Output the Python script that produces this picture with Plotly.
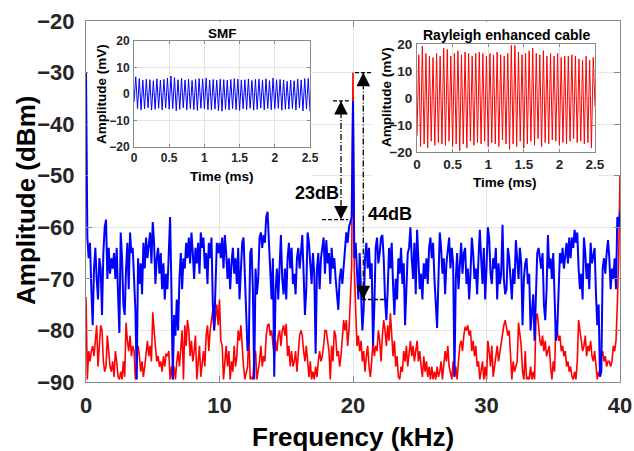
import numpy as np
import plotly.graph_objects as go

# ---------------- main spectrum data (0.1 kHz bins, 0..40 kHz) ----------------
blue_0_10 = [-30, -62, -66, -63, -72, -79, -68, -64, -70, -74,
             -66, -68, -77, -65, -60, -58.5, -70, -64, -69, -66,
             -68, -65, -70, -64, -73, -80.5, -61, -66, -75, -77,
             -68, -63, -72, -61, -65, -64, -70, -76, -89.5, -66,
             -71, -67, -73, -63, -68, -62, -66, -64, -61, -67,
             -59, -63, -71, -66, -64, -69, -65, -72, -67, -74,
             -69, -72, -63, -58, -72, -89.5, -77, -81, -74, -80,
             -70, -65, -72, -66, -68, -63, -66, -62, -67, -61,
             -65, -70, -64, -67, -63, -69, -61, -64, -62, -68,
             -65, -71, -63, -66, -62, -75, -80, -72, -63, -65]
blue_10_20 = [-63, -66, -62, -68, -61.5, -65, -70, -66, -72, -67,
              -64, -69, -66, -71, -64, -74, -68, -63, -62, -70,
              -77, -84, -82, -65, -64, -72, -89.5, -68, -73, -70,
              -62, -61, -64, -61.5, -63, -58, -57, -63, -70, -74,
              -66, -89, -72, -68, -74, -67, -61.5, -70, -73, -68,
              -74, -66, -63, -68, -64, -71, -69, -73, -66, -64,
              -68, -65, -61.5, -69, -77, -72, -61, -63, -67, -71,
              -65, -69, -84.5, -68, -65, -72, -66, -64, -62, -69,
              -62.5, -67, -65, -71, -64, -68, -66, -70, -74, -76,
              -70, -68, -71, -67, -65, -61, -63, -60, -59, -58]
blue_20_30 = [-35.5, -66, -63, -70, -74, -65, -72, -80, -76, -66,
              -63, -68, -64, -70, -67, -83, -75, -64, -62, -67,
              -65, -62, -61.5, -66, -74, -78, -72, -64, -68, -63,
              -71, -77, -70, -74, -66, -69, -64, -71, -67, -79,
              -72, -65, -64, -60, -66, -70, -63, -73, -60.5, -66,
              -72, -69, -74, -67, -70, -66, -71, -64, -62, -66,
              -63, -70, -74, -79.5, -70, -61, -64, -69, -66, -73,
              -67, -65, -62, -68, -64, -67, -89, -70, -65, -72,
              -66, -63, -69, -65, -64, -71, -68, -74, -69, -62,
              -65, -70, -68, -73, -66, -60.5, -66, -71, -64, -74]
blue_30_40 = [-68, -60, -62, -69, -71, -66, -68, -64, -74, -67,
              -71, -69, -59.5, -70, -73, -72, -64, -66, -70, -74,
              -68, -71, -62.5, -66, -70, -64, -67, -79, -70, -67,
              -66, -71, -69, -80, -76, -73, -82, -74, -65, -64,
              -66, -68, -65, -75, -78, -72, -61.5, -68, -66, -70,
              -65, -75, -82, -80, -70, -65, -67, -64, -68, -66,
              -63, -67, -62, -66, -62, -64, -60.5, -63, -61, -68,
              -72, -69, -74, -62, -65, -70, -67, -72, -63, -67,
              -65, -64, -73, -79, -75, -89, -88, -68, -66, -69,
              -65, -62.5, -66, -72, -68, -70, -66, -72, -58, -60,
              -57]

red_0_10 = [-73.5, -89.5, -84, -86, -84, -83, -85, -82, -79, -87,
            -83, -79, -80, -86, -88, -87, -81, -84, -87, -88,
            -86, -89, -84, -86, -89, -89.5, -88, -89.5, -86, -89,
            -78.5, -82, -84, -81, -85, -83, -84, -89.5, -86, -83,
            -85, -88, -86, -89, -87, -84, -82, -85, -83, -86,
            -76.5, -80, -83, -86, -85, -87, -86, -88, -85, -87,
            -84.5, -85, -84, -89.5, -87, -89.5, -87, -89.5, -86, -84,
            -87, -84, -80, -89.5, -79, -83, -78, -80, -85, -82,
            -86, -84, -81, -89.5, -85, -83, -89, -86, -84, -87,
            -81, -79, -84, -80, -78, -76, -80, -77, -75, -79]
red_10_20 = [-74, -82, -83, -89.5, -86, -83, -87, -84, -89.5, -86,
             -88, -83, -87, -85, -80, -82, -79, -84, -87, -89.5,
             -88, -87, -80.5, -89.5, -89, -89.5, -85, -84, -89.5, -88,
             -86, -83, -87, -85, -86, -81, -79, -78.7, -81, -80,
             -83, -85, -82, -84, -81, -80, -83, -80, -79, -81,
             -78.7, -85, -83, -87, -84, -87, -86, -84, -88, -85,
             -81, -80, -81, -84, -86, -83, -87, -89, -86, -89.5,
             -88, -89.5, -87, -89, -86, -84, -86, -85, -83, -80,
             -80, -82, -84, -89.5, -83, -86, -80, -81, -85, -84,
             -87, -85, -82, -78, -80, -78, -83, -80, -74, -67.5]
red_20_30 = [-30, -68, -76, -83, -81, -84, -82, -86, -84, -88,
             -85, -83, -87, -89, -86, -82, -85, -83, -84, -80,
             -82, -86, -81, -78, -80, -83, -79, -82, -76.7, -80,
             -85, -82, -87, -85, -89, -89.5, -87, -88, -84, -86,
             -83, -87, -84, -82, -85, -83, -86, -84, -82, -86,
             -84, -87, -89, -85, -88, -86, -89, -87, -89.5, -87,
             -89.5, -88, -89.5, -87, -89, -88, -86, -89.5, -87, -84,
             -86, -83, -87, -88, -89.5, -86, -89, -87, -89.5, -86,
             -83, -82, -84, -81, -79.3, -80, -79, -81, -80, -84,
             -82, -85, -83, -87, -86, -89.5, -88, -86, -89.5, -87]
red_30_40 = [-89.5, -82, -84, -87, -83, -89, -87, -85, -83, -86,
             -84, -82, -80, -79, -78, -80, -81, -80, -84, -89.5,
             -86, -88, -87, -86, -78.5, -81, -83, -88, -89.5, -84,
             -89.5, -89, -89.5, -87, -89.5, -88, -89.5, -78, -76.7, -79,
             -82, -83, -81, -84, -82, -85, -84, -83, -87, -89.5,
             -86, -88, -78, -80, -82, -81, -84, -83, -85, -84,
             -87, -86, -88, -87, -89, -89.5, -88, -89.5, -86, -78,
             -80, -82, -84, -83, -81, -85, -83, -84, -82, -85,
             -86, -84, -87, -89.5, -88, -89, -85, -84, -86, -85,
             -87, -86, -86, -87, -86, -83, -84, -82, -75, -66,
             -50]

spec_blue = blue_0_10 + blue_10_20 + blue_20_30 + blue_30_40
spec_red = red_0_10 + red_10_20 + red_20_30 + red_30_40
freq_khz = np.round(np.arange(len(spec_blue)) * 0.1, 1)

# ---------------- inset time-domain data (0.025 ms steps) ----------------
smf_mv = [-3.0, 6.5, -5.5, 5.8, -6.0, 5.2, -5.6, 5.6, -5.2, 5.4,
          -6.1, 5.0, -5.8, 5.7, -5.4, 5.2, -6.0, 5.5, -5.3, 6.0,
          -5.7, 6.8, -5.5, 6.2, -6.3, 5.4, -5.8, 5.9, -5.2, 5.3,
          -6.0, 5.6, -5.5, 5.1, -5.9, 5.5, -6.2, 5.8, -5.4, 5.7,
          -5.6, 6.0, -5.9, 5.3, -6.0, 5.5, -5.7, 5.2, -6.3, 5.6,
          -6.5, 5.4, -5.8, 5.2, -6.0, 5.5, -5.5, 5.8, -5.9, 5.6,
          -6.2, 5.3, -5.6, 5.4, -5.9, 5.7, -5.4, 5.1, -6.1, 5.5,
          -5.8, 5.6, -5.3, 5.2, -6.0, 5.7, -5.5, 5.0, -5.9, 6.0,
          -5.6, 5.4, -5.4, 5.5, -6.1, 5.3, -5.8, 4.8, -5.7, 5.2,
          -5.5, 5.0, -6.0, 5.6, -5.2, 5.3, -6.4, 5.8, -5.7, 5.9,
          -6.6]
rec_mv = [-14, 16, -18, 19.2, -17, 16.5, -18.5, 15.5, -16, 15,
          -17.5, 16.5, -16.5, 15.5, -17, 18.5, -17.5, 18, -16, 15.5,
          -18, 16.5, -17, 17.5, -19.5, 16, -17, 17, -18.5, 16.5,
          -16, 15.5, -17.5, 16.5, -16.5, 17, -17, 16.5, -16, 15.5,
          -18, 16.5, -16.5, 16, -17, 17, -18, 16, -15.5, 15.5,
          -17, 16.5, -19, 19.5, -17, 19.5, -18, 17, -16, 16,
          -18.5, 16.5, -17, 17.5, -16, 18.5, -17.5, 16.5, -15, 16,
          -18, 17.5, -16.5, 15.5, -17, 16.5, -15.5, 15.5, -16, 16.5,
          -17.5, 15, -16.5, 15.5, -17, 15.5, -16, 16, -15, 15.5,
          -16.5, 14.5, -16, 14, -17, 15.5, -16.5, 14, -18.5, 15,
          -3]
t_smf = np.linspace(0, 2.5, len(smf_mv))
t_rec = np.linspace(0, 2.5, len(rec_mv))

# ---------------- labels ----------------
x_ticks = [0, 10, 20, 30, 40]
y_ticks = [-90, -80, -70, -60, -50, -40, -30, -20]
inset_x_ticks = [0, 0.5, 1, 1.5, 2, 2.5]
inset_x_text = ['0', '0.5', '1', '1.5', '2', '2.5']
inset_y_ticks = [-20, -10, 0, 10, 20]
gap_db = [23, 44]
gap_labels = ['23dB', '44dB']

FONT = 'Liberation Sans, Arial, Helvetica, sans-serif'
GRID = '#e4e4e4'
AX = '#8a8a8a'
TXT = '#262626'

fig = go.Figure()
fig.add_trace(go.Scatter(x=freq_khz, y=spec_red, mode='lines',
                         line=dict(color='#ff0000', width=1.6),
                         xaxis='x', yaxis='y', showlegend=False))
fig.add_trace(go.Scatter(x=freq_khz, y=spec_blue, mode='lines',
                         line=dict(color='#0000ff', width=2),
                         xaxis='x', yaxis='y', showlegend=False))

# gap arrows, derived from peak values
peak_blue = spec_blue[200]
peak_red = spec_red[200]
a1x, a2x = 19.1, 20.77
a1_top, a1_bot = peak_blue, peak_blue - gap_db[0]
a2_top, a2_bot = peak_red, peak_red - gap_db[1]
for ax_, top, bot in [(a1x, a1_top, a1_bot), (a2x, a2_top, a2_bot)]:
    fig.add_trace(go.Scatter(x=[ax_, ax_], y=[top, bot], mode='lines',
                             line=dict(color='black', width=1.3, dash='6px,2px,1px,2px'),
                             xaxis='x', yaxis='y', showlegend=False, hoverinfo='skip'))
horiz = [(18.5, 19.85, a1_top), (17.68, 19.63, a1_bot),
         (20.15, 21.57, a2_top), (20.67, 22.55, a2_bot)]
for x0, x1, yy in horiz:
    fig.add_trace(go.Scatter(x=[x0, x1], y=[yy, yy], mode='lines',
                             line=dict(color='black', width=1.3, dash='4px,2px'),
                             xaxis='x', yaxis='y', showlegend=False, hoverinfo='skip'))

# cover subplots (white backgrounds behind insets incl. labels)
fig.add_trace(go.Scatter(x=[None], y=[None], xaxis='x2', yaxis='y2', showlegend=False))
fig.add_trace(go.Scatter(x=t_smf, y=smf_mv, mode='lines',
                         line=dict(color='#0000ff', width=1),
                         xaxis='x3', yaxis='y3', showlegend=False))
fig.add_trace(go.Scatter(x=[None], y=[None], xaxis='x4', yaxis='y4', showlegend=False))
fig.add_trace(go.Scatter(x=t_rec, y=rec_mv, mode='lines',
                         line=dict(color='#ff0000', width=1),
                         xaxis='x5', yaxis='y5', showlegend=False))

W, H, L, T = 534.0, 361.0, 86.0, 21.0
def px(x):
    return (x - L) / W
def py(y):
    return (T + H - y) / H

main_ax = dict(ticks='inside', ticklen=6, tickcolor=AX, showline=True, linecolor=AX,
               linewidth=1, mirror='ticks', showgrid=True, gridcolor=GRID, gridwidth=1,
               zeroline=False, automargin=False,
               tickfont=dict(family=FONT, size=22, color=TXT, weight='bold'))
inset_ax = dict(ticks='inside', ticklen=3, tickcolor=AX, showline=True, linecolor=AX,
                linewidth=1, mirror='ticks', showgrid=True, gridcolor=GRID, gridwidth=1,
                zeroline=False, automargin=False)

fig.update_layout(
    width=634, height=451,
    margin=dict(l=86, r=14, t=21, b=69, autoexpand=False),
    paper_bgcolor='white', plot_bgcolor='white',
    xaxis=dict(main_ax, range=[0, 40], tickvals=x_ticks, domain=[0, 1], anchor='y',
               ticklabelstandoff=4),
    yaxis=dict(main_ax, range=[-90, -20], tickvals=y_ticks, domain=[0, 1], anchor='x',
               ticklabelstandoff=6),
    xaxis2=dict(domain=[px(88), px(312)], anchor='y2', visible=False, range=[0, 1]),
    yaxis2=dict(domain=[py(184), py(22)], anchor='x2', visible=False, range=[0, 1]),
    xaxis3=dict(inset_ax, domain=[px(134), px(310)], anchor='y3', range=[0, 2.5],
                tickvals=inset_x_ticks, ticktext=inset_x_text,
                tickfont=dict(family=FONT, size=12, color=TXT, weight='bold'), ticklabelstandoff=0),
    yaxis3=dict(inset_ax, domain=[py(147), py(41)], anchor='x3', range=[-20, 20],
                tickvals=inset_y_ticks,
                tickfont=dict(family=FONT, size=12, color=TXT, weight='bold'), ticklabelstandoff=1),
    xaxis4=dict(domain=[px(372), px(598)], anchor='y4', visible=False, range=[0, 1]),
    yaxis4=dict(domain=[py(187), py(22)], anchor='x4', visible=False, range=[0, 1]),
    xaxis5=dict(inset_ax, domain=[px(417), px(595)], anchor='y5', range=[0, 2.5],
                tickvals=inset_x_ticks, ticktext=inset_x_text,
                tickfont=dict(family=FONT, size=13.5, color=TXT, weight='bold'), ticklabelstandoff=0),
    yaxis5=dict(inset_ax, domain=[py(152), py(44)], anchor='x5', range=[-20, 20],
                tickvals=inset_y_ticks,
                tickfont=dict(family=FONT, size=13.5, color=TXT, weight='bold'), ticklabelstandoff=1),
)

ann = []
def txt(x, y, s, size, angle=0, color='black'):
    ann.append(dict(x=x, y=y, xref='paper', yref='paper', text=s, showarrow=False,
                    xanchor='center', yanchor='middle', textangle=angle,
                    font=dict(family=FONT, size=size, color=color, weight='bold')))

txt(px(353), py(437), 'Frequency (kHz)', 26)
txt(px(26), py(201), 'Amplitude (dBm)', 26, angle=-90)
txt(px(222), py(33), 'SMF', 13.5)
txt(px(222), py(176), 'Time (ms)', 13.5)
txt(px(102), py(94), 'Amplitude (mV)', 13.5, angle=-90)
txt(px(506), py(35), 'Rayleigh enhanced cable', 14)
txt(px(505), py(182), 'Time (ms)', 13.5)
txt(px(386), py(97), 'Amplitude (mV)', 13.5, angle=-90)

# gap labels
ann.append(dict(x=17.3, y=-53.3, xref='x', yref='y', text=gap_labels[0], showarrow=False,
                font=dict(family=FONT, size=18, color='black', weight='bold')))
ann.append(dict(x=22.8, y=-57.4, xref='x', yref='y', text=gap_labels[1], showarrow=False,
                font=dict(family=FONT, size=18, color='black', weight='bold')))

# arrow heads
for ax_, top, bot in [(a1x, a1_top, a1_bot), (a2x, a2_top, a2_bot)]:
    ann.append(dict(x=ax_, y=top, ax=ax_, ay=top - 2.5, xref='x', yref='y', axref='x', ayref='y',
                    text='', showarrow=True, arrowhead=2, arrowsize=2.1, arrowwidth=1.3,
                    arrowcolor='black'))
    ann.append(dict(x=ax_, y=bot, ax=ax_, ay=bot + 2.5, xref='x', yref='y', axref='x', ayref='y',
                    text='', showarrow=True, arrowhead=2, arrowsize=2.1, arrowwidth=1.3,
                    arrowcolor='black'))

fig.update_layout(annotations=ann)
fig.write_html('out.html')
